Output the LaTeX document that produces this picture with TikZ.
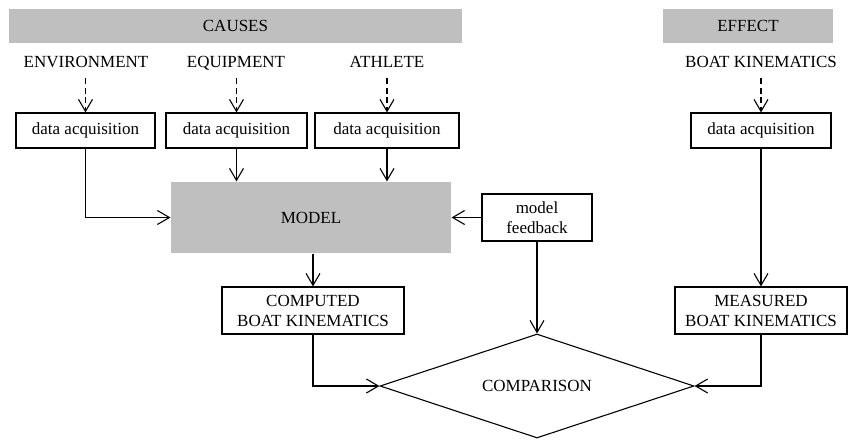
\documentclass[tikz,border=0pt]{standalone}
\usepackage{fontspec}
\setmainfont{Liberation Serif}
\usetikzlibrary{arrows.meta,shapes.geometric}
\definecolor{barg}{RGB}{191,191,191}
\begin{document}
\begin{tikzpicture}[x=1pt,y=-1pt,
  font=\fontsize{17}{20}\selectfont,
  line width=1.1pt,
  dbox/.style={draw, inner sep=0pt, minimum height=35pt},
  tbox/.style={draw, align=center, inner sep=0pt, minimum height=47pt},
  bar/.style={fill=barg, inner sep=0pt, minimum height=34pt},
  lbl/.style={inner sep=0pt, text height=11.5pt, text depth=0pt},
  arr/.style={-{Straight Barb[length=12pt,width=14pt]}},
  darr/.style={arr, dash pattern=on 6pt off 3.5pt}]
\useasboundingbox (0,0) rectangle (848,440);
% header bars
\node[bar, minimum width=453pt] (causes) at (235.5,26) {CAUSES};
\node[bar, minimum width=170pt] (effect) at (748,26) {EFFECT};
% labels
\node[lbl] (l1) at (86,62) {ENVIRONMENT};
\node[lbl] (l2) at (236,62) {EQUIPMENT};
\node[lbl] (l3) at (387,62) {ATHLETE};
\node[lbl] (l4) at (761,62) {BOAT KINEMATICS};
% data acquisition
\node[dbox, minimum width=139pt] (d1) at (85.5,130.5) {data acquisition};
\node[dbox, minimum width=141pt] (d2) at (236.5,130.5) {data acquisition};
\node[dbox, minimum width=144pt] (d3) at (387,130.5) {data acquisition};
\node[dbox, minimum width=140pt] (d4) at (761,130.5) {data acquisition};
% model and feedback
\node[fill=barg, minimum width=280pt, minimum height=71pt, inner sep=0pt] (model) at (311,217.5) {MODEL};
\node[tbox, minimum width=110pt] (fb) at (537,217.5) {model\\feedback};
% kinematics
\node[tbox, minimum width=182pt] (comp) at (313,310.5) {COMPUTED\\BOAT KINEMATICS};
\node[tbox, minimum width=172pt] (meas) at (761,310.5) {MEASURED\\BOAT KINEMATICS};
% comparison
\node[draw, diamond, shape aspect=3, minimum width=314pt, minimum height=104pt, inner sep=0pt] (cmp) at (537,386) {COMPARISON};
% dashed arrows
\draw[darr] ([yshift=-10pt]d1.north |- l1.south) -- (d1.north);
\draw[darr] ([yshift=-10pt]d2.north |- l2.south) -- (d2.north);
\draw[darr] ([yshift=-10pt]d3.north |- l3.south) -- (d3.north);
\draw[darr] ([yshift=-10pt]d4.north |- l4.south) -- (d4.north);
% solid arrows
\draw[arr] (d1.south) |- (model.west);
\draw[arr] (d2.south) -- (d2.south |- model.north);
\draw[arr] (d3.south) -- (d3.south |- model.north);
\draw[arr] (fb.west) -- (model.east);
\draw[arr] (comp.north |- model.south) -- (comp.north);
\draw[arr] (fb.south) -- (cmp.north);
\draw[arr] (d4.south) -- (meas.north);
\draw[arr] (comp.south) |- (cmp.west);
\draw[arr] (meas.south) |- (cmp.east);
\end{tikzpicture}
\end{document}
